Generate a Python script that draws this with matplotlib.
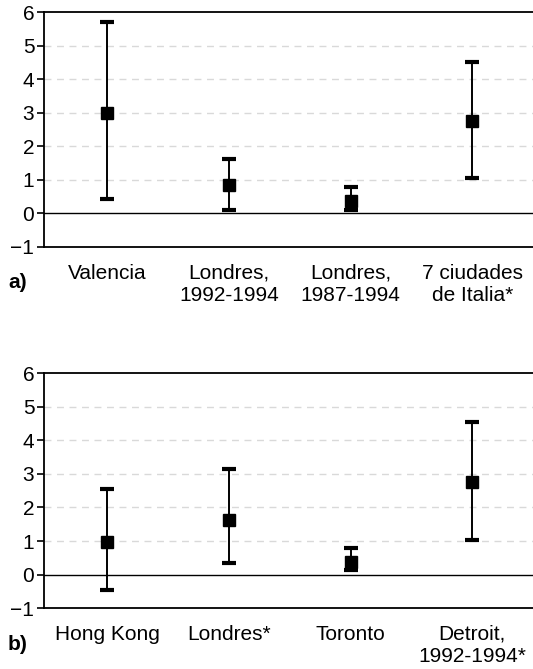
import matplotlib
matplotlib.use('Agg')
import matplotlib.pyplot as plt

plt.rcParams['font.family'] = ['Liberation Sans', 'DejaVu Sans']

# panel a
cats_a = ['Valencia', 'Londres,\n1992-1994', 'Londres,\n1987-1994', '7 ciudades\nde Italia*']
est_a = [3.0, 0.85, 0.36, 2.76]
low_a = [0.42, 0.11, 0.11, 1.04]
high_a = [5.7, 1.63, 0.77, 4.52]

# panel b
cats_b = ['Hong Kong', 'Londres*', 'Toronto', 'Detroit,\n1992-1994*']
est_b = [0.96, 1.64, 0.37, 2.76]
low_b = [-0.45, 0.34, 0.13, 1.04]
high_b = [2.54, 3.16, 0.78, 4.54]

yticks = [-1, 0, 1, 2, 3, 4, 5, 6]

fig = plt.figure(figsize=(5.33, 6.69), dpi=100)
ax_a = fig.add_axes([0.0826, 0.631, 0.9174, 0.351])
ax_b = fig.add_axes([0.0826, 0.091, 0.9174, 0.351])


def draw(ax, cats, est, low, high):
    x = list(range(len(cats)))
    yerr = [[e - l for e, l in zip(est, low)], [h - e for e, h in zip(est, high)]]
    for g in [1, 2, 3, 4, 5]:
        ax.axhline(g, color='#d9d9d9', lw=1, ls=(0, (5, 4)), zorder=0)
    ax.axhline(0, color='black', lw=1, zorder=1)
    ax.errorbar(x, est, yerr=yerr, fmt='s', color='black', ms=8.5,
                elinewidth=1.4, capsize=4.7, capthick=3, zorder=3)
    ax.set_xlim(-0.52, 3.5)
    ax.set_ylim(-1, 6)
    ax.set_yticks(yticks)
    ax.set_xticks(x)
    ax.set_xticklabels(cats, fontsize=15, linespacing=1.2)
    ax.tick_params(axis='x', length=0, pad=12)
    ax.tick_params(axis='y', length=5, width=1.2, labelsize=15, pad=2)
    ax.spines['right'].set_visible(False)
    for s in ['top', 'bottom', 'left']:
        ax.spines[s].set_linewidth(1.3)


draw(ax_a, cats_a, est_a, low_a, high_a)
draw(ax_b, cats_b, est_b, low_b, high_b)

fig.text(0.015, 1 - 283 / 669, 'a)', fontsize=15, fontweight='bold', va='center')
fig.text(0.015, 1 - 645 / 669, 'b)', fontsize=15, fontweight='bold', va='center')

fig.savefig('out.png', dpi=100)
